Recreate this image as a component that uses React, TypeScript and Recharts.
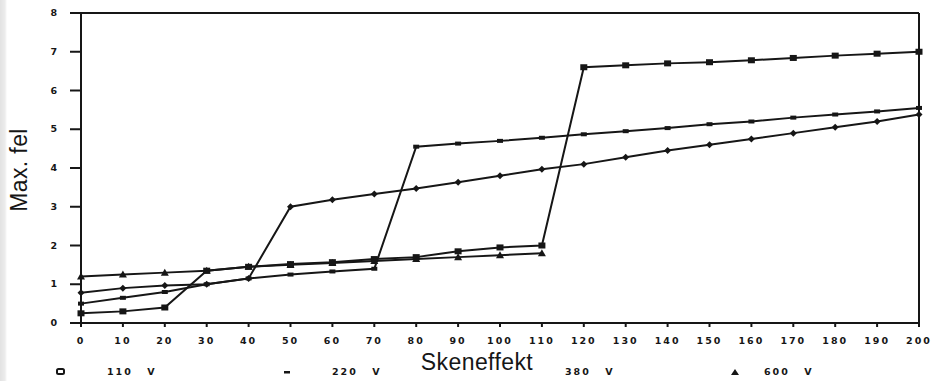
import React from 'react';
import { LineChart, Line, XAxis, YAxis, ReferenceLine, Legend } from 'recharts';

// Skeneffekt (VA) on x, max. fel on y
const xValues = [0, 10, 20, 30, 40, 50, 60, 70, 80, 90, 100, 110, 120, 130, 140, 150, 160, 170, 180, 190, 200];
const yTicks = [0, 1, 2, 3, 4, 5, 6, 7, 8];

const v110 = [0.25, 0.3, 0.4, 1.35, 1.45, 1.52, 1.57, 1.65, 1.7, 1.85, 1.95, 2.0, 6.6, 6.65, 6.7, 6.73, 6.78, 6.84, 6.9, 6.95, 7.0];
const v220 = [0.5, 0.65, 0.8, 1.0, 1.15, 1.25, 1.33, 1.4, 4.55, 4.63, 4.7, 4.78, 4.87, 4.95, 5.03, 5.13, 5.2, 5.3, 5.38, 5.46, 5.55];
const v380 = [0.78, 0.9, 0.97, 1.0, 1.15, 3.0, 3.18, 3.33, 3.47, 3.63, 3.8, 3.97, 4.1, 4.28, 4.45, 4.6, 4.75, 4.9, 5.05, 5.2, 5.38];
const v600 = [1.2, 1.25, 1.3, 1.35, 1.45, 1.5, 1.55, 1.6, 1.65, 1.7, 1.75, 1.8, null, null, null, null, null, null, null, null, null];

const legendNames = ['110 V', '220 V', '380 V', '600 V'];

const data = xValues.map((x, i) => ({
  x,
  v110: v110[i],
  v220: v220[i],
  v380: v380[i],
  v600: v600[i],
}));

const ink = '#161616';
const tickFont = '"DejaVu Sans", sans-serif';
const labelFont = '"Liberation Sans", Arial, sans-serif';

const dotShape = (kind: string) => (p: any) => {
  const { cx, cy, key } = p;
  if (cx == null || cy == null || p.value == null) return <g key={key} />;
  if (kind === 'square')
    return <rect key={key} x={cx - 3.5} y={cy - 3} width={7} height={6} fill={ink} />;
  if (kind === 'plus')
    return <rect key={key} x={cx - 3} y={cy - 2} width={6} height={4} fill={ink} />;
  if (kind === 'diamond')
    return <path key={key} d={`M${cx},${cy - 3.5}L${cx + 3.5},${cy}L${cx},${cy + 3.5}L${cx - 3.5},${cy}Z`} fill={ink} />;
  return <path key={key} d={`M${cx},${cy - 4}L${cx + 4},${cy + 3}L${cx - 4},${cy + 3}Z`} fill={ink} />;
};

const XTick = ({ x, y, payload }: any) => (
  <text x={x} y={y} dy={7} textAnchor="middle" fill={ink} fontFamily={tickFont} fontWeight={700} fontSize={9.5} letterSpacing={2}>
    {payload.value}
  </text>
);

const YTick = ({ x, y, payload }: any) => (
  <text x={x} y={y} dy={3} textAnchor="end" fill={ink} fontFamily={tickFont} fontWeight={700} fontSize={9.5}>
    {payload.value}
  </text>
);

// legend item placement: marker left, text left
const legendLayout = [
  { mark: 'square', markX: 55, textX: 107 },
  { mark: 'plus', markX: 281, textX: 332 },
  { mark: '', markX: 0, textX: 565 },
  { mark: 'triangle', markX: 729, textX: 764 },
];

function LegendRow() {
  return (
    <div style={{ position: 'relative', height: 16, fontFamily: tickFont, fontWeight: 700, fontSize: 9.5, color: ink }}>
      {legendNames.map((name, i) => {
        const l = legendLayout[i];
        return (
          <React.Fragment key={name}>
            {l.mark && (
              <svg width={12} height={12} style={{ position: 'absolute', left: l.markX, top: 2 }}>
                {l.mark === 'square' && <rect x={2} y={3} width={7} height={5} rx={1.5} fill="none" stroke={ink} strokeWidth={2} />}
                {l.mark === 'plus' && <rect x={3} y={5} width={6} height={2.5} fill={ink} />}
                {l.mark === 'triangle' && <path d="M6,3L10,9L2,9Z" fill={ink} />}
              </svg>
            )}
            <span style={{ position: 'absolute', left: l.textX, top: 2, letterSpacing: 2, wordSpacing: 9, whiteSpace: 'nowrap' }}>{name}</span>
          </React.Fragment>
        );
      })}
    </div>
  );
}

export default function App() {
  return (
    <div
      style={{
        position: 'absolute',
        left: 0,
        top: 0,
        width: 937,
        height: 381,
        background: 'linear-gradient(to right, #e2e2e2 0px, #ececec 5px, #fff 7px)',
      }}
    >
      <LineChart width={937} height={381} data={data} margin={{ top: 13, right: 18, left: 0, bottom: 0 }}>
        <XAxis
          dataKey="x"
          type="number"
          domain={[0, 200]}
          ticks={xValues}
          interval={0}
          height={58}
          stroke={ink}
          strokeWidth={2}
          tickSize={4}
          tickMargin={10}
          tick={<XTick />}
          label={{
            content: () => (
              <text x={477} y={370} textAnchor="middle" fill={ink} fontFamily={labelFont} fontSize={23} letterSpacing={0.4}>
                Skeneffekt
              </text>
            ),
          }}
        />
        <YAxis
          type="number"
          domain={[0, 8]}
          ticks={yTicks}
          interval={0}
          width={81}
          stroke={ink}
          strokeWidth={2}
          tickSize={11}
          tickMargin={13}
          tick={<YTick />}
          label={{
            content: () => (
              <text x={27} y={170} transform="rotate(-90 27 170)" textAnchor="middle" fill={ink} fontFamily={labelFont} fontSize={23} letterSpacing={0.4}>
                Max. fel
              </text>
            ),
          }}
        />
        <ReferenceLine y={8} stroke={ink} strokeWidth={2} ifOverflow="visible" />
        <ReferenceLine x={200} stroke={ink} strokeWidth={2} ifOverflow="visible" />
        <Legend verticalAlign="middle" align="center" layout="horizontal" wrapperStyle={{ top: 364, left: 0, width: 937 }} content={<LegendRow />} />
        <Line dataKey="v600" name={legendNames[3]} stroke={ink} strokeWidth={2} dot={dotShape('triangle')} isAnimationActive={false} />
        <Line dataKey="v380" name={legendNames[2]} stroke={ink} strokeWidth={2} dot={dotShape('diamond')} isAnimationActive={false} />
        <Line dataKey="v220" name={legendNames[1]} stroke={ink} strokeWidth={2} dot={dotShape('plus')} isAnimationActive={false} />
        <Line dataKey="v110" name={legendNames[0]} stroke={ink} strokeWidth={2} dot={dotShape('square')} isAnimationActive={false} />
      </LineChart>
    </div>
  );
}
